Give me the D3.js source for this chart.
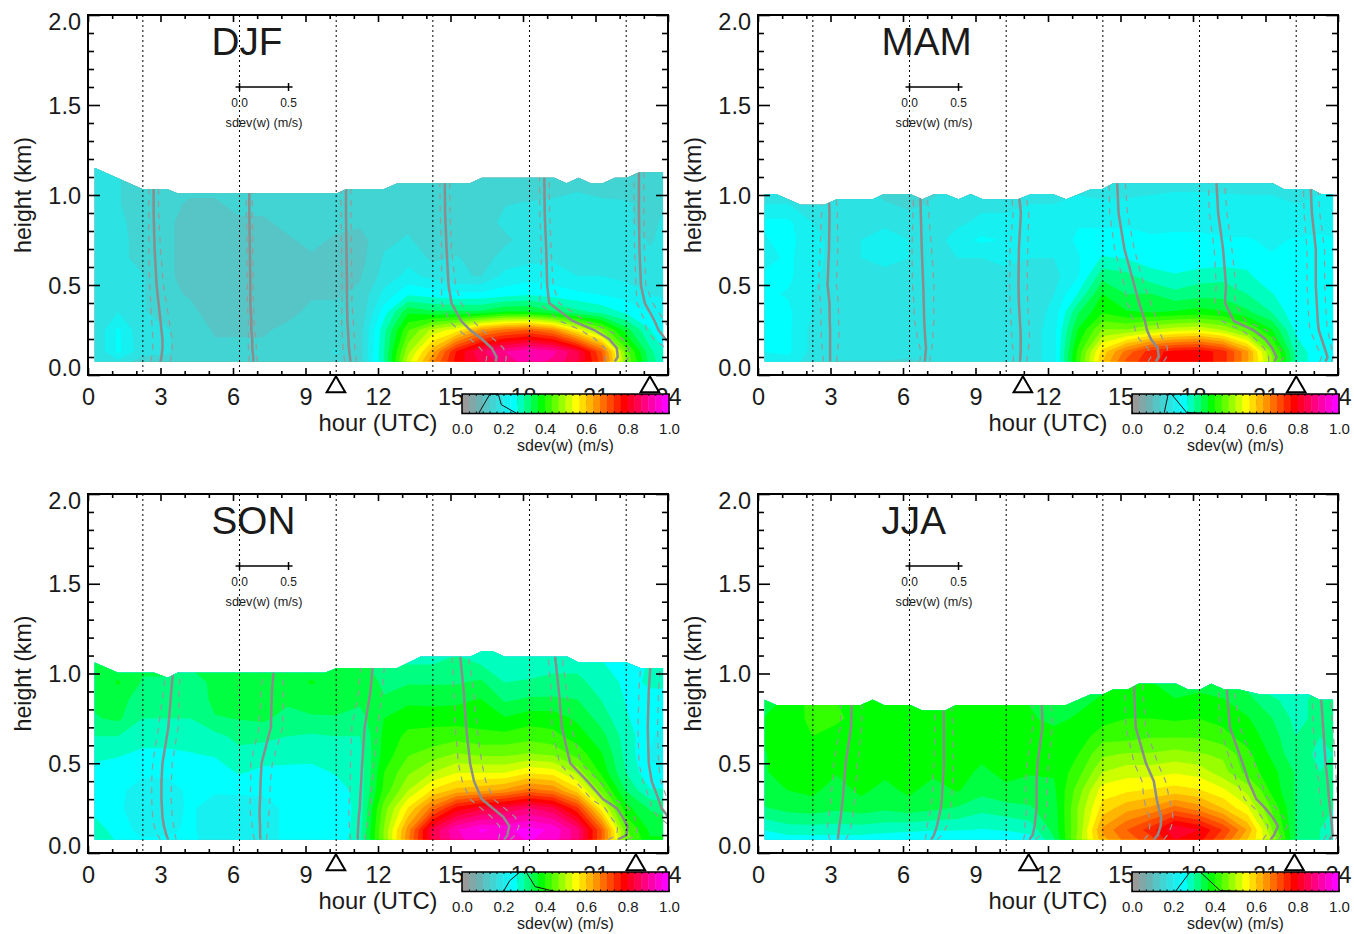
<!DOCTYPE html>
<html><head><meta charset="utf-8">
<style>html,body{margin:0;padding:0;background:#fff}svg{display:block}text{font-family:"Liberation Sans",Arial,sans-serif;fill:#1a1a1a}</style>
<script src="https://cdn.jsdelivr.net/npm/d3@7"></script></head><body><svg id="c" width="1354" height="934"></svg>
<script>
// ---- shared axes ----
const seasons = ["DJF","MAM","SON","JJA"];
const xMajor = [0,3,6,9,12,15,18,21,24];
const xMinor = [1,2,4,5,7,8,10,11,13,14,16,17,19,20,22,23];
const yMajor = [0,0.5,1,1.5,2];
const yMinor = [0.1,0.2,0.3,0.4,0.6,0.7,0.8,0.9,1.1,1.2,1.3,1.4,1.6,1.7,1.8,1.9];
const cbTicks = [0,0.2,0.4,0.6,0.8,1];
const soundingHours = [2.27,6.27,10.27,14.27,18.27,22.27];
const hourCols = [0.27,1.25,2.25,3.25,4.25,5.25,6.25,7.25,8.25,9.25,10.25,11.25,12.25,13.25,14.25,15.25,16.25,17.25,18.25,19.25,20.25,21.25,22.25,23.25,23.8];
const kmRows = [0.074,0.13,0.25,0.35,0.45,0.55,0.65,0.75,0.85,0.95,1.05,1.15];
const profileKm = [0.074,0.1,0.15,0.2,0.25,0.3,0.4,0.5,0.7,0.9,1.15];
const levelColors = ["#999999","#83a6a6","#6db2b2","#57c5c5","#42d3d3","#2ce2e2","#16f0f0","#00ffff","#00ffbf","#00ff80","#00ff40","#00ff00","#33ff00","#66ff00","#99ff00","#ccff00","#ffff00","#ffdb00","#ffb600","#ff9200","#ff6d00","#ff4900","#ff2400","#ff0000","#ff002a","#ff0055","#ff0080","#ff00aa","#ff00d5","#ff00ff"];

// ---- sun markers (triangles) ----
const sunDJF=[10.26,23.25], sunMAM=[10.96,22.27], sunSON=[10.26,22.67], sunJJA=[11.2,22.2];

// ---- top of the measured layer ----
const topHourDJF=[0.27,2.25,3.27,3.7,10.3,10.7,12.25,12.8,15.8,16.3,19.3,19.8,20.3,20.8,21.3,21.8,22.3,22.8,23.8];
const topKmDJF=[1.152,1.033,1.033,1.01,1.01,1.033,1.033,1.065,1.065,1.096,1.096,1.065,1.096,1.065,1.065,1.096,1.096,1.126,1.126];
const topHourMAM=[0.27,0.75,1.77,2.75,3.25,4.75,5.2,6.3,6.8,7.3,7.75,8.3,8.8,9.3,10.75,11.3,12.2,12.75,13.8,14.25,14.7,21.3,21.75,22.9,23.3,23.8];
const topKmMAM=[1.005,1.005,0.946,0.946,0.976,0.976,1.005,1.005,0.976,1.005,1.005,0.976,1.005,0.976,0.976,1.005,1.005,0.976,1.033,1.033,1.065,1.065,1.033,1.033,1.005,1.005];
const topHourSON=[0.27,1.25,2.75,3.3,3.7,9.8,10.3,12.8,13.75,15.8,16.3,16.75,17.25,19.85,20.3,22.3,22.85,23.8];
const topKmSON=[1.061,1.004,1.004,0.976,1.004,1.004,1.031,1.031,1.094,1.094,1.124,1.124,1.094,1.094,1.061,1.061,1.031,1.031];
const topHourJJA=[0.27,0.75,4.25,4.75,5.2,6.3,6.8,7.75,8.2,12.75,13.75,14.25,14.7,15.3,15.75,17.3,17.8,18.3,18.75,19.3,19.9,20.8,22.8,23.25,23.8];
const topKmJJA=[0.854,0.824,0.824,0.854,0.824,0.824,0.794,0.794,0.824,0.824,0.883,0.883,0.911,0.911,0.943,0.943,0.911,0.911,0.943,0.911,0.911,0.883,0.883,0.854,0.854];

// ---- sdev(w) fields: one row per hourCols entry, one value per kmRows entry ----
const gridDJF=[
[.17,.17,.17,.17,.17,.17,.18,.18,.18,.18,.18,.19],
[.19,.24,.24,.20,.18,.18,.18,.18,.18,.17,.17,.17],
[.15,.18,.17,.17,.17,.17,.15,.15,.14,.14,.14,.14],
[.16,.17,.17,.15,.14,.14,.14,.14,.14,.14,.14,.14],
[.15,.15,.15,.14,.13,.12,.12,.12,.12,.13,.14,.14],
[.15,.14,.13,.12,.12,.12,.12,.12,.12,.13,.14,.14],
[.15,.14,.13,.12,.12,.12,.12,.12,.13,.14,.14,.14],
[.15,.14,.13,.12,.12,.12,.12,.12,.13,.14,.14,.14],
[.15,.14,.14,.125,.12,.12,.12,.13,.14,.14,.14,.14],
[.15,.15,.14,.14,.13,.12,.13,.14,.14,.14,.14,.14],
[.16,.17,.15,.14,.13,.12,.12,.13,.14,.14,.14,.15],
[.15,.15,.15,.14,.14,.13,.12,.12,.14,.14,.15,.15],
[.30,.30,.29,.25,.21,.18,.17,.16,.15,.15,.15,.15],
[.52,.49,.43,.36,.26,.21,.19,.17,.16,.15,.15,.15],
[.66,.62,.51,.34,.25,.19,.16,.15,.145,.15,.15,.15],
[.78,.77,.55,.34,.24,.17,.17,.145,.14,.14,.14,.14],
[.84,.86,.64,.34,.24,.165,.15,.145,.15,.15,.15,.15],
[.88,.90,.68,.37,.25,.21,.18,.16,.175,.165,.15,.15],
[.92,.93,.70,.37,.26,.22,.19,.18,.18,.17,.15,.15],
[.89,.91,.66,.34,.25,.215,.195,.18,.175,.17,.16,.15],
[.84,.84,.55,.31,.24,.20,.185,.18,.175,.17,.165,.15],
[.72,.70,.46,.29,.23,.20,.185,.18,.175,.17,.16,.15],
[.47,.45,.35,.26,.22,.19,.18,.175,.17,.17,.155,.15],
[.32,.31,.27,.23,.20,.18,.17,.165,.16,.16,.15,.15],
[.28,.27,.24,.215,.195,.18,.17,.17,.17,.165,.155,.15]];
const gridMAM=[
[.21,.235,.24,.24,.24,.24,.22,.23,.24,.20,.18,.18],
[.22,.24,.24,.24,.23,.24,.24,.245,.24,.20,.18,.18],
[.18,.19,.19,.20,.20,.21,.21,.21,.20,.19,.17,.17],
[.165,.18,.18,.18,.18,.18,.19,.19,.19,.20,.19,.18],
[.165,.18,.18,.18,.18,.18,.20,.20,.19,.18,.17,.16],
[.165,.18,.18,.18,.18,.19,.21,.22,.19,.17,.15,.14],
[.16,.18,.18,.18,.18,.18,.20,.20,.18,.16,.15,.15],
[.17,.18,.18,.18,.18,.18,.19,.18,.18,.17,.16,.15],
[.18,.18,.18,.18,.18,.18,.20,.22,.19,.18,.17,.16],
[.18,.18,.18,.18,.18,.18,.20,.24,.21,.19,.17,.17],
[.18,.18,.18,.18,.18,.19,.21,.23,.21,.19,.17,.17],
[.18,.18,.18,.18,.19,.19,.20,.22,.21,.20,.18,.17],
[.22,.22,.22,.21,.20,.19,.20,.21,.21,.20,.19,.18],
[.42,.41,.37,.33,.27,.23,.23,.24,.23,.21,.19,.18],
[.60,.58,.47,.395,.367,.32,.27,.24,.23,.21,.17,.16],
[.71,.68,.47,.37,.333,.31,.265,.24,.23,.21,.18,.17],
[.76,.75,.50,.365,.335,.28,.25,.24,.22,.21,.19,.18],
[.78,.78,.52,.37,.31,.27,.245,.24,.225,.21,.195,.18],
[.79,.79,.53,.38,.32,.285,.24,.24,.225,.22,.19,.17],
[.75,.75,.50,.37,.32,.29,.245,.235,.225,.215,.19,.17],
[.64,.64,.44,.34,.30,.275,.25,.235,.225,.21,.19,.17],
[.48,.46,.37,.30,.27,.235,.235,.23,.22,.21,.19,.17],
[.30,.29,.26,.24,.235,.24,.24,.235,.22,.20,.185,.17],
[.235,.24,.24,.24,.24,.24,.24,.24,.22,.21,.19,.175],
[.235,.24,.24,.24,.24,.24,.24,.235,.22,.21,.195,.18]];
const gridSON=[
[.30,.29,.25,.245,.25,.28,.30,.33,.34,.345,.36,.36],
[.26,.245,.24,.24,.25,.27,.30,.34,.35,.37,.35,.35],
[.235,.225,.21,.22,.24,.26,.28,.30,.31,.33,.34,.34],
[.24,.225,.215,.22,.24,.26,.28,.30,.31,.33,.34,.34],
[.235,.24,.24,.24,.245,.265,.28,.30,.30,.31,.34,.34],
[.23,.21,.21,.24,.25,.27,.29,.33,.345,.345,.34,.34],
[.235,.22,.215,.24,.27,.29,.31,.335,.35,.35,.345,.34],
[.23,.22,.22,.24,.26,.28,.31,.34,.35,.35,.35,.34],
[.235,.24,.24,.24,.25,.29,.30,.32,.34,.35,.35,.34],
[.24,.24,.24,.245,.255,.28,.295,.33,.345,.37,.35,.34],
[.245,.24,.24,.25,.27,.29,.30,.33,.35,.35,.36,.36],
[.29,.285,.28,.28,.28,.29,.30,.32,.34,.345,.34,.34],
[.47,.47,.45,.41,.40,.38,.375,.367,.335,.33,.32,.31],
[.66,.65,.57,.50,.46,.43,.41,.385,.36,.33,.30,.29],
[.84,.84,.68,.57,.50,.45,.41,.39,.355,.33,.30,.29],
[.92,.93,.78,.61,.53,.47,.42,.385,.36,.33,.31,.29],
[.96,.97,.82,.62,.53,.46,.41,.385,.37,.34,.30,.27],
[.95,.96,.84,.64,.53,.46,.41,.37,.33,.30,.28,.26],
[.97,.98,.87,.68,.56,.47,.42,.385,.34,.305,.28,.26],
[.95,.96,.84,.66,.55,.46,.41,.385,.34,.31,.29,.27],
[.88,.88,.74,.58,.49,.42,.385,.36,.335,.31,.29,.27],
[.70,.70,.55,.45,.39,.37,.345,.32,.30,.285,.27,.26],
[.46,.44,.38,.33,.30,.29,.285,.27,.265,.26,.25,.25],
[.37,.36,.33,.27,.24,.23,.24,.25,.26,.27,.27,.27],
[.37,.36,.32,.27,.235,.22,.22,.24,.26,.27,.27,.27]];
const gridJJA=[
[.23,.27,.33,.36,.365,.365,.37,.37,.34,.34,.34,.34],
[.25,.285,.345,.367,.375,.38,.38,.39,.38,.37,.37,.37],
[.25,.285,.35,.375,.38,.385,.40,.405,.41,.38,.38,.38],
[.25,.285,.34,.35,.37,.38,.39,.405,.40,.38,.38,.38],
[.25,.285,.35,.375,.38,.385,.39,.39,.38,.37,.37,.37],
[.24,.28,.34,.355,.375,.385,.40,.39,.38,.38,.38,.38],
[.24,.275,.35,.375,.38,.38,.38,.38,.38,.38,.38,.38],
[.24,.27,.34,.35,.375,.38,.38,.39,.40,.38,.38,.38],
[.235,.27,.33,.37,.38,.38,.38,.38,.38,.37,.37,.37],
[.235,.265,.31,.345,.36,.375,.38,.38,.365,.35,.35,.35],
[.24,.27,.32,.36,.375,.38,.38,.38,.37,.36,.36,.36],
[.25,.28,.33,.35,.37,.375,.375,.37,.365,.36,.36,.36],
[.33,.345,.35,.36,.37,.38,.375,.36,.36,.37,.37,.37],
[.48,.47,.47,.45,.42,.40,.38,.37,.36,.36,.36,.36],
[.62,.64,.58,.55,.50,.46,.42,.385,.37,.36,.36,.36],
[.68,.70,.62,.56,.52,.47,.42,.40,.38,.375,.37,.37],
[.72,.75,.64,.57,.52,.47,.43,.40,.38,.37,.35,.35],
[.80,.83,.68,.58,.53,.48,.43,.395,.37,.34,.31,.30],
[.78,.80,.65,.57,.52,.47,.43,.40,.38,.35,.33,.33],
[.70,.73,.60,.54,.48,.46,.41,.39,.37,.34,.31,.31],
[.60,.63,.54,.49,.42,.41,.385,.37,.345,.32,.30,.29],
[.50,.47,.43,.39,.38,.36,.35,.335,.31,.27,.25,.25],
[.33,.33,.33,.33,.33,.31,.30,.29,.28,.26,.24,.24],
[.30,.30,.30,.30,.30,.295,.30,.31,.32,.30,.29,.29],
[.27,.28,.30,.31,.31,.30,.30,.31,.32,.31,.30,.30]];

// ---- mean profiles at each sounding hour, one value per profileKm entry ----
const meanDJF=[
[.18,.19,.20,.20,.19,.18,.16,.14,.12,.11,.11],
[.14,.14,.13,.13,.12,.12,.11,.11,.105,.10,.10],
[.146,.14,.13,.125,.12,.115,.11,.11,.105,.10,.10],
[.64,.65,.60,.50,.38,.29,.19,.16,.14,.125,.12],
[.87,.90,.89,.81,.66,.44,.20,.18,.17,.155,.15],
[.68,.62,.52,.40,.33,.29,.19,.15,.135,.13,.13]];
const meanMAM=[
[.176,.176,.176,.176,.176,.172,.17,.15,.165,.17,.15],
[.156,.16,.168,.16,.155,.15,.145,.14,.125,.115,.105],
[.14,.145,.148,.148,.146,.14,.13,.125,.13,.15,.10],
[.54,.57,.56,.49,.45,.43,.37,.32,.22,.16,.14],
[.765,.785,.74,.67,.55,.35,.26,.27,.24,.19,.165],
[.30,.32,.29,.26,.23,.22,.21,.20,.20,.16,.14]];
const meanSON=[
[.26,.24,.215,.20,.195,.19,.19,.20,.26,.29,.33],
[.215,.21,.21,.205,.205,.21,.215,.225,.32,.33,.37],
[.22,.22,.225,.23,.24,.245,.255,.265,.29,.35,.39],
[.73,.76,.78,.72,.61,.50,.42,.38,.34,.315,.27],
[.90,.99,1.0,.95,.89,.75,.59,.415,.33,.30,.25],
[.85,.72,.55,.43,.36,.33,.26,.23,.22,.23,.26]];
const meanJJA=[
[.255,.26,.27,.285,.295,.305,.32,.335,.39,.40,.40],
[.22,.25,.28,.30,.32,.33,.34,.35,.35,.345,.345],
[.235,.27,.29,.30,.31,.31,.31,.32,.37,.36,.36],
[.52,.56,.59,.595,.57,.55,.52,.44,.335,.32,.32],
[.725,.76,.80,.745,.67,.58,.50,.44,.31,.28,.28],
[.34,.37,.365,.355,.345,.335,.32,.30,.275,.25,.25]];

// ---- spread of the profiles (dashed lines at mean +/- spread) ----
const spreadDJF=[
[.10,.10,.10,.10,.09,.09,.08,.07,.06,.05,.05],
[.04,.04,.04,.04,.03,.03,.03,.03,.03,.03,.03],
[.06,.06,.06,.06,.06,.06,.05,.05,.05,.05,.05],
[.10,.10,.12,.12,.12,.12,.10,.07,.05,.05,.05],
[.10,.12,.12,.14,.14,.13,.10,.06,.05,.05,.05],
[.10,.10,.12,.12,.12,.10,.08,.05,.05,.05,.05]];
const spreadMAM=[
[.07,.07,.08,.09,.09,.09,.09,.09,.09,.08,.06],
[.05,.05,.06,.08,.08,.10,.10,.11,.10,.08,.05],
[.07,.07,.08,.09,.09,.09,.09,.09,.09,.08,.06],
[.08,.08,.10,.12,.12,.12,.12,.10,.10,.09,.08],
[.06,.08,.08,.10,.13,.12,.10,.10,.09,.09,.08],
[.06,.06,.07,.08,.09,.09,.09,.09,.09,.08,.07]];
const spreadSON=[
[.08,.09,.10,.10,.10,.10,.10,.10,.10,.08,.07],
[.06,.07,.08,.09,.10,.10,.10,.11,.12,.11,.10],
[.07,.08,.09,.10,.11,.11,.11,.12,.13,.12,.12],
[.06,.08,.10,.12,.12,.12,.12,.12,.11,.10,.08],
[.10,.10,.10,.12,.12,.12,.12,.11,.10,.08,.07],
[.10,.10,.10,.10,.10,.09,.09,.10,.10,.10,.10]];
const spreadJJA=[
[.08,.10,.12,.12,.12,.12,.12,.12,.11,.10,.10],
[.06,.08,.10,.10,.10,.10,.10,.10,.09,.08,.08],
[.06,.08,.10,.10,.10,.11,.11,.11,.10,.10,.10],
[.10,.10,.11,.12,.13,.13,.12,.12,.10,.09,.09],
[.08,.08,.10,.11,.11,.12,.12,.12,.10,.08,.08],
[.06,.06,.07,.08,.08,.09,.09,.10,.10,.09,.09]];

// ---- curve drawn inside the colour bar ----
const curveValDJF=[.08,.135,.175,.19,.265,.30], curveFracDJF=[0,1,1,.45,0,0];
const curveValMAM=[.156,.175,.19,.264,.40], curveFracMAM=[.05,1,1,.05,0];
const curveValSON=[.20,.23,.28,.31,.353,.45], curveFracSON=[0,.55,1,1,.25,0];
const curveValJJA=[.21,.28,.33,.425,.57], curveFracJJA=[0,1,1,.05,0];

const panelSeries={
 DJF:{grid:gridDJF,topH:topHourDJF,topK:topKmDJF,mean:meanDJF,spread:spreadDJF,sun:sunDJF,cv:curveValDJF,cf:curveFracDJF,col:0,row:0},
 MAM:{grid:gridMAM,topH:topHourMAM,topK:topKmMAM,mean:meanMAM,spread:spreadMAM,sun:sunMAM,cv:curveValMAM,cf:curveFracMAM,col:1,row:0},
 SON:{grid:gridSON,topH:topHourSON,topK:topKmSON,mean:meanSON,spread:spreadSON,sun:sunSON,cv:curveValSON,cf:curveFracSON,col:0,row:1},
 JJA:{grid:gridJJA,topH:topHourJJA,topK:topKmJJA,mean:meanJJA,spread:spreadJJA,sun:sunJJA,cv:curveValJJA,cf:curveFracJJA,col:1,row:1}
};

const svg=d3.select("#c");
const W=580,H=[360,359];
const nx=hourCols.length, ny=kmRows.length;
const thresholds=levelColors.map((c,i)=>i/levelColors.length);
const colIndex=d3.scaleLinear().domain(hourCols.map((h,i)=>i+.5)).range(hourCols).clamp(true);
const rowIndex=d3.scaleLinear().domain(kmRows.map((k,i)=>i+.5)).range(kmRows).clamp(true);

seasons.forEach((name,pi)=>{
 const p=panelSeries[name];
 const ox=88+p.col*670, oy=p.row?494:15, h=H[p.row];
 const g=svg.append("g").attr("transform",`translate(${ox},${oy})`);
 const x=d3.scaleLinear().domain([0,24]).range([0,W]);
 const y=d3.scaleLinear().domain([0,2]).range([h,0]);
 const line=d3.line().x(d=>d[0]).y(d=>d[1]);

 // clips
 const base=kmRows[0];
 const topPts=p.topH.map((t,i)=>[x(t),y(p.topK[i])]);
 const fillPoly=topPts.concat([[x(p.topH[p.topH.length-1]),y(base)],[x(p.topH[0]),y(base)]]);
 const lastTop=topPts[topPts.length-1];
 const profPoly=topPts.concat([[W,lastTop[1]],[W,y(base)],[x(p.topH[0]),y(base)]]);
 g.append("clipPath").attr("id","f"+pi).append("path").attr("d",line(fillPoly)+"Z");
 g.append("clipPath").attr("id","q"+pi).append("path").attr("d",line(profPoly)+"Z");

 // filled contours
 const flat=[];
 for(let j=0;j<ny;j++)for(let i=0;i<nx;i++)flat.push(p.grid[i][j]);
 const contours=d3.contours().size([nx,ny]).thresholds(thresholds)(flat);
 const path=d3.geoPath(d3.geoTransform({point(a,b){this.stream.point(x(colIndex(a)),y(rowIndex(b)));}}));
 g.append("g").attr("clip-path",`url(#f${pi})`).selectAll("path").data(contours).join("path")
  .attr("d",path).attr("fill",(d,i)=>levelColors[i]);

 // profiles
 const pg=g.append("g").attr("clip-path",`url(#q${pi})`).attr("fill","none");
 const sx=d3.scaleLinear().domain([0,0.5]).range([0,49]);
 soundingHours.forEach((sh,k)=>{
  const mk=(sign)=>d3.line().x((d,i)=>x(sh)+sx(p.mean[k][i]+sign*p.spread[k][i])).y((d,i)=>y(profileKm[i]))(profileKm);
  pg.append("path").attr("d",mk(-1)).attr("stroke","#999").attr("stroke-width",1.2).attr("stroke-dasharray","6,6");
  pg.append("path").attr("d",mk(1)).attr("stroke","#999").attr("stroke-width",1.2).attr("stroke-dasharray","6,6");
  pg.append("path").attr("d",mk(0)).attr("stroke","#8c8c8c").attr("stroke-width",2.5);
 });

 // dotted hour lines
 g.append("g").selectAll("line").data(soundingHours).join("line")
  .attr("x1",d=>x(d)).attr("x2",d=>x(d)).attr("y1",0).attr("y2",h)
  .attr("stroke","#000").attr("stroke-width",1).attr("stroke-dasharray","2,3");

 // axes: frame and ticks
 const styleAx=s=>{s.selectAll("path.domain").remove();s.selectAll("line").attr("stroke","#000").attr("stroke-width",1.6);};
 const xa=g.append("g").attr("transform",`translate(0,${h})`).call(d3.axisBottom(x).tickValues(xMajor).tickSize(-7).tickPadding(22)).call(styleAx);
 xa.selectAll("text").attr("font-size",23.5).attr("fill","#1a1a1a").attr("dy",0).attr("dominant-baseline","central").attr("y",22);
 g.append("g").attr("transform",`translate(0,${h})`).call(d3.axisBottom(x).tickValues(xMinor).tickSize(-4).tickFormat("")).call(styleAx);
 g.append("g").call(d3.axisTop(x).tickValues(xMajor).tickSize(-7).tickFormat("")).call(styleAx);
 g.append("g").call(d3.axisTop(x).tickValues(xMinor).tickSize(-4).tickFormat("")).call(styleAx);
 const ya=g.append("g").call(d3.axisLeft(y).tickValues(yMajor).tickSize(-12).tickFormat(d3.format(".1f"))).call(styleAx);
 ya.selectAll("text").attr("font-size",23.5).attr("fill","#1a1a1a").attr("x",-7).attr("dy",0).attr("dominant-baseline","central")
   .attr("y",d=>d===0?-8:d===2?6:0);
 g.append("g").call(d3.axisLeft(y).tickValues(yMinor).tickSize(-6).tickFormat("")).call(styleAx);
 g.append("g").attr("transform",`translate(${W},0)`).call(d3.axisRight(y).tickValues(yMajor).tickSize(-12).tickFormat("")).call(styleAx);
 g.append("g").attr("transform",`translate(${W},0)`).call(d3.axisRight(y).tickValues(yMinor).tickSize(-6).tickFormat("")).call(styleAx);
 g.append("rect").attr("width",W).attr("height",h).attr("fill","none").attr("stroke","#000").attr("stroke-width",2);

 // axis titles
 g.append("text").attr("transform",`translate(-65,${h/2}) rotate(-90)`).attr("text-anchor","middle").attr("dominant-baseline","central").attr("font-size",23.2).text("height (km)");
 g.append("text").attr("x",290).attr("y",h+47).attr("text-anchor","middle").attr("dominant-baseline","central").attr("font-size",23.8).text("hour (UTC)");

 // season title
 g.append("text").attr("x",123.5).attr("y",26).attr("dominant-baseline","central").attr("font-size",38.7).text(name);

 // inset scale for the profiles
 const ins=d3.scaleLinear().domain([0,0.5]).range([x(6.27),x(6.27)+49]);
 const iy=72;
 g.append("line").attr("x1",ins(0)-4).attr("x2",ins(0.5)+4).attr("y1",iy).attr("y2",iy).attr("stroke","#000").attr("stroke-width",1.5);
 g.append("g").selectAll("line").data([0,0.5]).join("line").attr("x1",d=>ins(d)).attr("x2",d=>ins(d)).attr("y1",iy-4).attr("y2",iy+4).attr("stroke","#000").attr("stroke-width",1.5);
 g.append("g").selectAll("text").data([0,0.5]).join("text").attr("x",d=>ins(d)).attr("y",iy+16).attr("text-anchor","middle").attr("dominant-baseline","central").attr("font-size",12).text(d3.format(".1f"));
 g.append("text").attr("x",ins(0.25)).attr("y",iy+36).attr("text-anchor","middle").attr("dominant-baseline","central").attr("font-size",12.7).text("sdev(w) (m/s)");

 // colour bar
 const cbY=h+19, cbH=19.5;
 const cb=d3.scaleLinear().domain([0,1]).range([374,581]);
 const cg=g.append("g").attr("transform",`translate(0,${cbY})`);
 cg.selectAll("rect").data(levelColors).join("rect").attr("x",(c,i)=>cb(i/30)).attr("width",cb(1/30)-cb(0)+.4).attr("y",0).attr("height",cbH).attr("fill",c=>c);
 const cy=d3.scaleLinear().domain([0,1]).range([cbH,0]);
 cg.append("path").attr("fill","none").attr("stroke","#111").attr("stroke-width",1)
   .attr("d",d3.line().x(d=>cb(d)).y((d,i)=>cy(p.cf[i]))(p.cv));
 const edges=levelColors.map((c,i)=>i/30).concat([1]);
 cg.append("g").call(d3.axisBottom(cb).tickValues(edges).tickSize(-2).tickFormat("")).attr("transform",`translate(0,${cbH})`).call(styleAx).selectAll("line").attr("stroke-width",1);
 cg.append("g").call(d3.axisTop(cb).tickValues(edges).tickSize(-2).tickFormat("")).call(styleAx).selectAll("line").attr("stroke-width",1);
 cg.append("rect").attr("x",cb(0)).attr("width",cb(1)-cb(0)).attr("height",cbH).attr("fill","none").attr("stroke","#000").attr("stroke-width",1.5);
 const ca=cg.append("g").attr("transform",`translate(0,${cbH+15})`).call(d3.axisBottom(cb).tickValues(cbTicks).tickSize(0).tickPadding(0).tickFormat(d3.format(".1f")));
 ca.select("path.domain").remove();
 ca.selectAll("text").attr("font-size",15).attr("fill","#1a1a1a").attr("dy",0).attr("y",0).attr("dominant-baseline","central");
 g.append("text").attr("x",cb(0.5)).attr("y",cbY+cbH+32).attr("text-anchor","middle").attr("dominant-baseline","central").attr("font-size",16).text("sdev(w) (m/s)");

 // sun triangles
 const tri=d3.symbol().type(d3.symbolTriangle).size(150);
 g.append("g").selectAll("path").data(p.sun).join("path").attr("d",tri)
  .attr("transform",d=>`translate(${x(d)},${h+12})`).attr("fill","none").attr("stroke","#000").attr("stroke-width",2);
});
</script></body></html>
